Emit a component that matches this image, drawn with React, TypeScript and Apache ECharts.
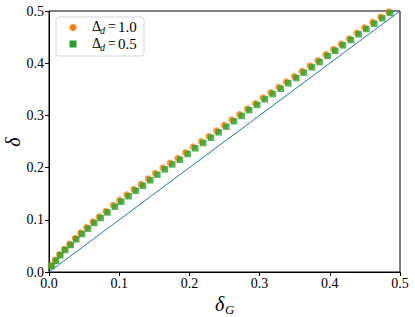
import React, { useEffect, useRef } from "react";
import * as echarts from "echarts";

const xTicks = [0, 0.1, 0.2, 0.3, 0.4, 0.5];
const yTicks = [0, 0.1, 0.2, 0.3, 0.4, 0.5];

const diagX = [0, 0.5];
const diagY = [0, 0.5];

const greenX = [0.0038,0.0100,0.0161,0.0232,0.0309,0.0389,0.0470,0.0556,0.0645,0.0736,0.0833,0.0940,0.1030,0.1135,0.1235,0.1339,0.1443,0.1543,0.1652,0.1756,0.1866,0.1976,0.2084,0.2198,0.2308,0.2417,0.2526,0.2635,0.2745,0.2853,0.2967,0.3077,0.3187,0.3301,0.3409,0.3523,0.3632,0.3746,0.3856,0.3970,0.4078,0.4188,0.4302,0.4412,0.4520,0.4634,0.4748,0.4858];
const greenY = [0.0115,0.0216,0.0320,0.0421,0.0517,0.0626,0.0728,0.0830,0.0939,0.1034,0.1140,0.1251,0.1347,0.1450,0.1557,0.1653,0.1757,0.1864,0.1967,0.2060,0.2151,0.2261,0.2370,0.2471,0.2573,0.2676,0.2784,0.2887,0.2989,0.3100,0.3200,0.3308,0.3410,0.3511,0.3615,0.3716,0.3818,0.3921,0.4023,0.4138,0.4239,0.4343,0.4444,0.4554,0.4655,0.4757,0.4860,0.4962];

const orangeX = [0.0030,0.0090,0.0150,0.0218,0.0293,0.0372,0.0452,0.0536,0.0624,0.0714,0.0810,0.0915,0.1005,0.1108,0.1208,0.1311,0.1414,0.1514,0.1622,0.1726,0.1836,0.1946,0.2054,0.2168,0.2278,0.2387,0.2496,0.2605,0.2715,0.2825,0.2939,0.3049,0.3159,0.3273,0.3381,0.3495,0.3604,0.3718,0.3828,0.3944,0.4052,0.4162,0.4277,0.4387,0.4496,0.4610,0.4725,0.4836];
const orangeY = [0.0125,0.0228,0.0334,0.0437,0.0535,0.0645,0.0749,0.0852,0.0962,0.1058,0.1165,0.1277,0.1374,0.1478,0.1585,0.1682,0.1786,0.1893,0.1996,0.2089,0.2180,0.2290,0.2399,0.2500,0.2602,0.2705,0.2813,0.2916,0.3018,0.3128,0.3229,0.3336,0.3438,0.3539,0.3643,0.3744,0.3846,0.3949,0.4051,0.4164,0.4265,0.4369,0.4470,0.4580,0.4680,0.4782,0.4884,0.4984];

const legendValues = ["1.0", "0.5"];

const BLUE = "#1f77b4";
const ORANGE = "#ff7f0e";
const GREEN = "#2ca02c";
const SERIF = "'Liberation Serif', 'DejaVu Serif', serif";

export default function App() {
  const ref = useRef<HTMLDivElement>(null);
  useEffect(() => {
    document.body.style.margin = "0";
    const chart = echarts.init(ref.current!, null, { renderer: "svg" });
    const zip = (a: number[], b: number[]) => a.map((v, i) => [v, b[i]]);
    const axisCommon = {
      type: "value" as const,
      min: xTicks[0],
      max: xTicks[xTicks.length - 1],
      interval: 0.1,
      splitLine: { show: false },
      axisLine: { show: true, onZero: false, lineStyle: { color: "#000", width: 1 } },
      axisTick: { show: true, inside: false, length: 4, lineStyle: { color: "#000", width: 1 } },
    };
    const legendText = (y: number, val: string) => [
      { type: "text", left: 92, top: y - 8, style: { text: "Δ", fontFamily: SERIF, fontSize: 14, fill: "#000" } },
      { type: "text", left: 100, top: y - 2, style: { text: "d", fontFamily: SERIF, fontStyle: "italic", fontSize: 10, fill: "#000" } },
      { type: "text", left: 108, top: y - 8, style: { text: "=", fontFamily: SERIF, fontSize: 14, fill: "#000" } },
      { type: "text", left: 118, top: y - 8, style: { text: val, fontFamily: SERIF, fontSize: 15, fill: "#000" } },
    ];
    chart.setOption({
      animation: false,
      grid: {
        left: 49, right: 15, top: 11, bottom: 45,
        containLabel: false,
        outerBoundsMode: "none",
        show: true, borderColor: "#000", borderWidth: 1, backgroundColor: "transparent",
      },
      xAxis: {
        ...axisCommon,
        axisLabel: { margin: 4, fontFamily: SERIF, fontSize: 14, color: "#000", formatter: (v: number) => v.toFixed(1) },
      },
      yAxis: {
        ...axisCommon,
        min: yTicks[0],
        max: yTicks[yTicks.length - 1],
        axisLabel: { margin: 5, fontFamily: SERIF, fontSize: 14, color: "#000", formatter: (v: number) => v.toFixed(1) },
      },
      series: [
        {
          type: "line",
          data: zip(diagX, diagY),
          showSymbol: false,
          symbol: "none",
          lineStyle: { color: BLUE, width: 1 },
          z: 1,
        },
        {
          name: "1.0",
          type: "scatter",
          data: zip(orangeX, orangeY),
          symbol: "circle",
          symbolSize: 7,
          itemStyle: { color: ORANGE },
          z: 2,
        },
        {
          name: "0.5",
          type: "scatter",
          data: zip(greenX, greenY),
          symbol: "rect",
          symbolSize: 6.5,
          itemStyle: { color: GREEN },
          z: 3,
        },
      ],
      graphic: [
        {
          type: "rect",
          shape: { x: 56, y: 17, width: 88, height: 39, r: 3 },
          style: { fill: "rgba(255,255,255,0.8)", stroke: "#d6d6d6", lineWidth: 1 },
          z: 10,
        },
        { type: "circle", shape: { cx: 73, cy: 27.5, r: 3.5 }, style: { fill: ORANGE }, z: 11 },
        { type: "rect", shape: { x: 69.5, y: 40.5, width: 7, height: 7 }, style: { fill: GREEN }, z: 11 },
        ...legendText(27.5, legendValues[0]).map((e) => ({ ...e, z: 11 })),
        ...legendText(44, legendValues[1]).map((e) => ({ ...e, z: 11 })),
        { type: "text", left: 215, top: 294, style: { text: "δ", fontFamily: SERIF, fontStyle: "italic", fontSize: 20, fill: "#000" } },
        { type: "text", left: 225, top: 303, style: { text: "G", fontFamily: SERIF, fontStyle: "italic", fontSize: 13, fill: "#000" } },
        {
          type: "text",
          x: 13,
          y: 142,
          rotation: Math.PI / 2,
          style: { text: "δ", fontFamily: SERIF, fontStyle: "italic", fontSize: 20, fill: "#000", align: "center", verticalAlign: "middle" },
        },
      ],
    });
    return () => chart.dispose();
  }, []);
  return <div ref={ref} style={{ width: 415, height: 317, position: "absolute", left: 0, top: 0 }} />;
}
